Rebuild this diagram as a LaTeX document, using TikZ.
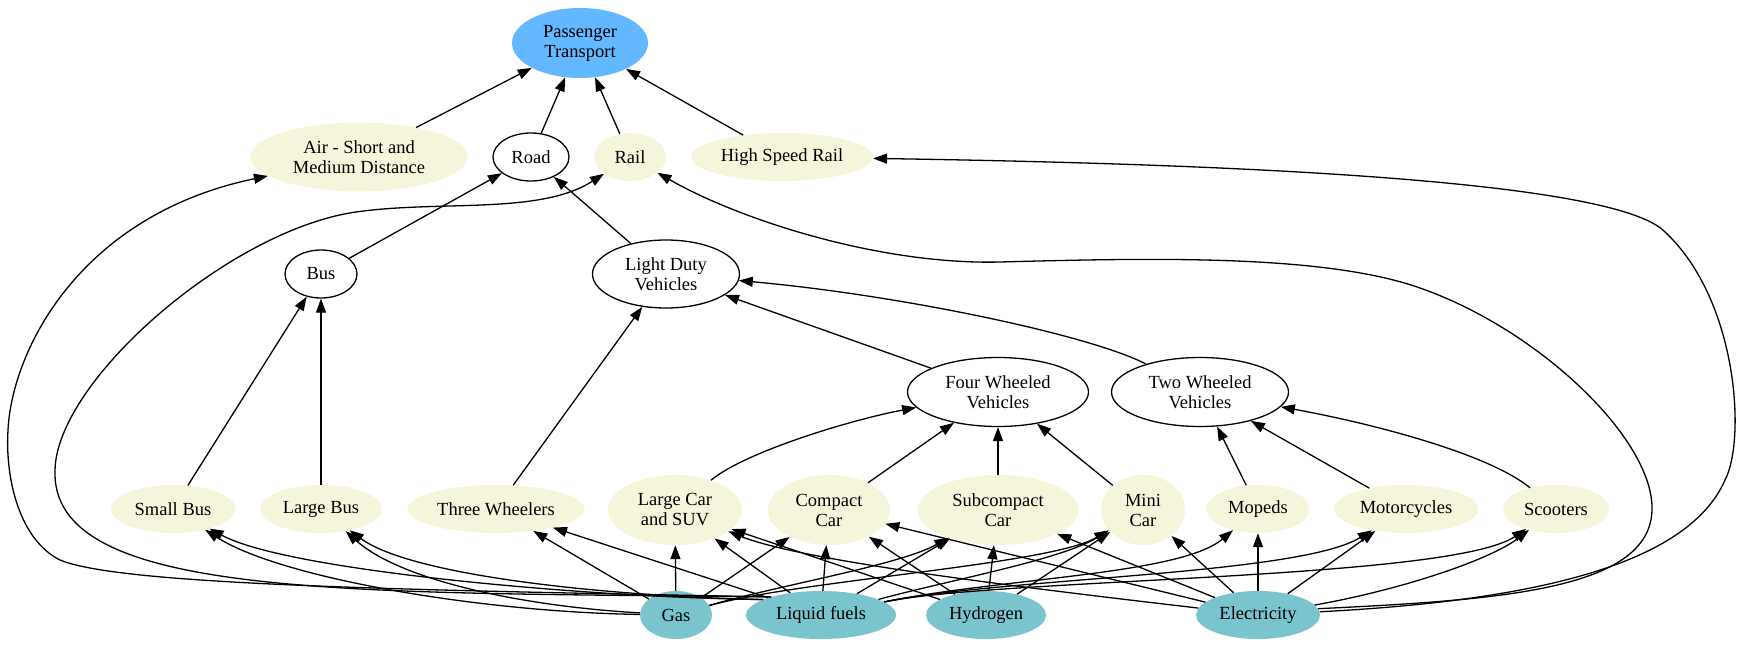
\documentclass[tikz,border=0pt]{standalone}
\usepackage{fontspec}
\setmainfont{Liberation Serif}
\usetikzlibrary{arrows.meta,shapes.geometric}
\definecolor{beigefill}{HTML}{F5F5DC}
\definecolor{fuelfill}{HTML}{7AC5CD}
\definecolor{topfill}{HTML}{63B8FF}
\tikzset{item/.style={ellipse,inner sep=0pt,align=center,minimum height=48pt,
    font=\fontsize{18.5}{20}\selectfont},
  mode/.style={item,fill=beigefill},
  group/.style={item,draw,line width=1.3pt},
  fuel/.style={item,fill=fuelfill},
  link/.style={-{Triangle[length=14pt,width=10pt]},line width=1.3pt}}

\begin{document}
\begin{tikzpicture}[x=1pt,y=-1pt]
  \path[use as bounding box] (0,0) rectangle (1743,645);
  \node[item,fill=topfill,minimum width=136pt,minimum height=70pt] (pt) at (580,43) {Passenger\\Transport};
  \node[mode,minimum width=217pt,minimum height=69pt] (air) at (359,157) {Air - Short and\\Medium Distance};
  \node[group,minimum width=76pt] (road) at (531,157) {Road};
  \node[mode,minimum width=72pt] (rail) at (630,157) {Rail};
  \node[mode,minimum width=182pt] (hsr) at (782,157) {High Speed Rail};
  \node[group,minimum width=72pt] (bus) at (321,274) {Bus};
  \node[group,minimum width=147pt,minimum height=68pt] (ldv) at (666,274) {Light Duty\\Vehicles};
  \node[group,minimum width=181pt,minimum height=69pt] (fwv) at (998,392) {Four Wheeled\\Vehicles};
  \node[group,minimum width=177pt,minimum height=69pt] (twv) at (1200,392) {Two Wheeled\\Vehicles};
  \node[mode,minimum width=125pt] (smallbus) at (173,509) {Small Bus};
  \node[mode,minimum width=122pt] (largebus) at (321,509) {Large Bus};
  \node[mode,minimum width=177pt] (three) at (496,509) {Three Wheelers};
  \node[mode,minimum width=134pt,minimum height=70pt] (largecar) at (675,510) {Large Car\\and SUV};
  \node[mode,minimum width=122pt,minimum height=70pt] (compact) at (829,510) {Compact\\Car};
  \node[mode,minimum width=161pt,minimum height=70pt] (subcompact) at (998,510) {Subcompact\\Car};
  \node[mode,minimum width=84pt,minimum height=70pt] (mini) at (1143,510) {Mini\\Car};
  \node[mode,minimum width=103pt] (mopeds) at (1258,509) {Mopeds};
  \node[mode,minimum width=144pt] (motorcycles) at (1406,509) {Motorcycles};
  \node[mode,minimum width=106pt] (scooters) at (1556,509) {Scooters};
  \node[fuel,minimum width=72pt] (gas) at (676,615) {Gas};
  \node[fuel,minimum width=150pt] (liquid) at (821,615) {Liquid fuels};
  \node[fuel,minimum width=120pt] (hydrogen) at (986,615) {Hydrogen};
  \node[fuel,minimum width=124pt] (electricity) at (1258,615) {Electricity};
  % modes and vehicles
  \draw[link] (air) -- (pt);
  \draw[link] (road) -- (pt);
  \draw[link] (rail) -- (pt);
  \draw[link] (hsr) -- (pt);
  \draw[link] (bus) -- (road);
  \draw[link] (ldv) -- (road);
  \draw[link] (fwv) -- (ldv);
  \draw[link] (twv) .. controls (1090,335) and (900,295) .. (ldv);
  \draw[link] (three) -- (ldv);
  \draw[link] (smallbus) -- (bus);
  \draw[link] (largebus) -- (bus);
  \draw[link] (largecar) .. controls (745,452) and (850,420) .. (fwv);
  \draw[link] (compact) -- (fwv);
  \draw[link] (subcompact) -- (fwv);
  \draw[link] (mini) -- (fwv);
  \draw[link] (mopeds) -- (twv);
  \draw[link] (motorcycles) -- (twv);
  \draw[link] (scooters) .. controls (1490,455) and (1380,425) .. (twv);
  % fuels
  \draw[link] (gas) .. controls (480,612) and (280,578) .. (smallbus);
  \draw[link] (gas) .. controls (520,606) and (400,580) .. (largebus);
  \draw[link] (gas) -- (three);
  \draw[link] (gas) -- (largecar);
  \draw[link] (gas) -- (compact);
  \draw[link] (gas) .. controls (780,585) and (900,565) .. (subcompact);
  \draw[link] (gas) .. controls (800,580) and (1050,565) .. (mini);
  \draw[link] (liquid.165) .. controls (600,598) and (290,572) .. (smallbus);
  \draw[link] (liquid.165) .. controls (600,596) and (410,575) .. (largebus);
  \draw[link] (liquid) -- (three);
  \draw[link] (liquid) -- (largecar);
  \draw[link] (liquid) -- (compact);
  \draw[link] (liquid) -- (subcompact);
  \draw[link] (liquid) .. controls (950,580) and (1060,560) .. (mini);
  \draw[link] (liquid) .. controls (1000,578) and (1180,575) .. (mopeds);
  \draw[link] (liquid) .. controls (1000,578) and (1300,575) .. (motorcycles);
  \draw[link] (liquid) .. controls (1000,578) and (1450,580) .. (scooters);
  \draw[link] (liquid.160) .. controls (400,590) and (120,585) .. (60,560)
    .. controls (20,540) and (5,480) .. (8,430) .. controls (12,350) and (80,215) .. (air);
  \draw[link] (liquid.160) .. controls (350,592) and (50,600) .. (55,470)
    .. controls (57,380) and (230,230) .. (356,212) .. controls (440,200) and (540,215) .. (rail);
  \draw[link] (hydrogen) -- (largecar);
  \draw[link] (hydrogen) -- (compact);
  \draw[link] (hydrogen) -- (subcompact);
  \draw[link] (hydrogen) -- (mini);
  \draw[link] (electricity) .. controls (1000,585) and (800,560) .. (largecar);
  \draw[link] (electricity) -- (compact);
  \draw[link] (electricity) -- (subcompact);
  \draw[link] (electricity) -- (mini);
  \draw[link] (electricity) -- (mopeds);
  \draw[link] (electricity) -- (motorcycles);
  \draw[link] (electricity) .. controls (1400,590) and (1490,560) .. (scooters);
  \draw[link] (electricity.6) .. controls (1500,600) and (1650,590) .. (1652,510)
    .. controls (1654,440) and (1540,330) .. (1420,288) .. controls (1324,254) and (1150,258) .. (1000,262)
    .. controls (880,265) and (740,220) .. (rail);
  \draw[link] (electricity.3) .. controls (1550,600) and (1690,560) .. (1725,480)
    .. controls (1746,440) and (1738,300) .. (1665,232) .. controls (1620,185) and (1300,165) .. (hsr);
\end{tikzpicture}
\end{document}
